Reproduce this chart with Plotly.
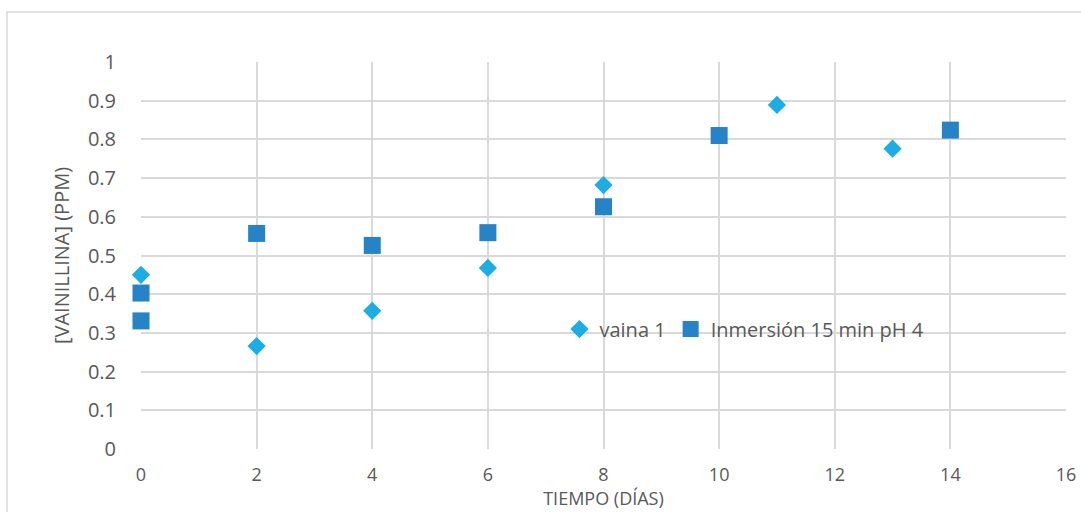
import plotly.graph_objects as go

# Days sampled and vanillin concentration (ppm)
dias_vaina = [0, 2, 4, 6, 8, 11, 13]
ppm_vaina = [0.45, 0.266, 0.357, 0.468, 0.682, 0.889, 0.776]

dias_inmersion = [0, 0, 2, 4, 6, 8, 10, 14]
ppm_inmersion = [0.403, 0.331, 0.557, 0.526, 0.559, 0.626, 0.810, 0.824]

x_ticks = [0, 2, 4, 6, 8, 10, 12, 14, 16]
y_ticks = [0, 0.1, 0.2, 0.3, 0.4, 0.5, 0.6, 0.7, 0.8, 0.9, 1]

FONT = "Open Sans, Liberation Sans, sans-serif"
TEXT = "#595959"
GRID = "#D9D9D9"
FS = 20

fig = go.Figure()
fig.add_trace(go.Scatter(
    x=dias_vaina, y=ppm_vaina, mode="markers", name="vaina 1",
    marker=dict(symbol="diamond", size=14, color="#1CADE4"),
    cliponaxis=False,
))
fig.add_trace(go.Scatter(
    x=dias_inmersion, y=ppm_inmersion, mode="markers",
    name="Inmersión 15 min pH 4",
    marker=dict(symbol="square", size=17, color="#2683C6"),
    cliponaxis=False,
))

fig.update_layout(
    template="none",
    width=1081, height=512,
    margin=dict(l=141, r=15, t=62, b=63),
    paper_bgcolor="white", plot_bgcolor="white",
    font=dict(family=FONT, color=TEXT, size=FS),
    showlegend=True,
    legend=dict(
        x=0.4524, y=0.31, xanchor="left", yanchor="middle",
        orientation="h", bgcolor="rgba(0,0,0,0)",
        font=dict(size=FS, color=TEXT), itemwidth=30,
        tracegroupgap=0,
    ),
    xaxis=dict(
        range=[0, 16], tickvals=x_ticks, showgrid=True, gridcolor=GRID,
        gridwidth=1.5, zeroline=False, showline=False, automargin=False,
        ticks="outside", ticklen=9, tickcolor="rgba(0,0,0,0)",
        tickfont=dict(size=18, color=TEXT),
        title=dict(text="TIEMPO (DÍAS)", font=dict(size=18, color=TEXT), standoff=3),
    ),
    yaxis=dict(
        range=[0, 1], tickvals=y_ticks, showgrid=True, gridcolor=GRID,
        gridwidth=1.5, zeroline=False, showline=False, automargin=False,
        ticks="outside", ticklen=20, tickcolor="rgba(0,0,0,0)",
        tickfont=dict(size=FS, color=TEXT),
        title=dict(text="[VAINILLINA] (PPM)", font=dict(size=FS, color=TEXT), standoff=12),
    ),
    shapes=[
        # outer chart frame
        dict(type="rect", xref="paper", yref="paper",
             x0=-0.1449, x1=1.2, y0=-0.5, y1=1.129,
             line=dict(color=GRID, width=1.5), fillcolor="rgba(0,0,0,0)", layer="below"),
    ],
)

fig.write_html("out.html")
